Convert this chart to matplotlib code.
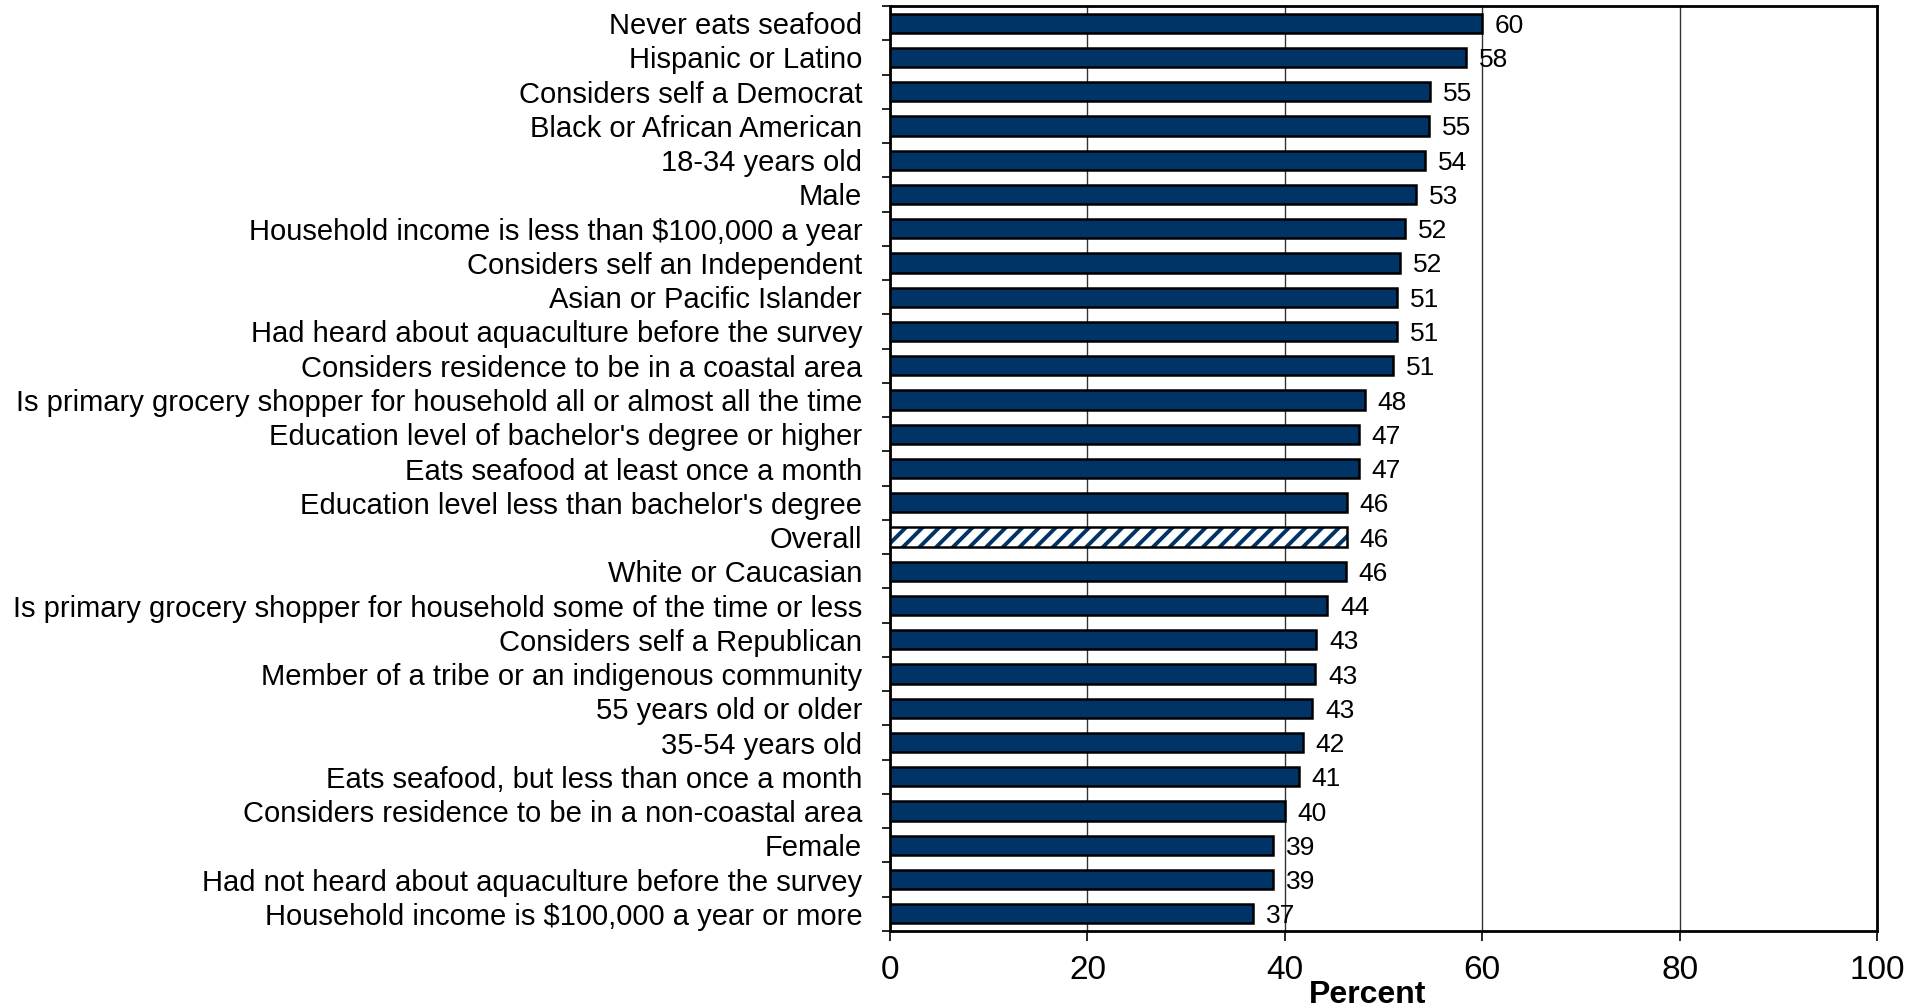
import numpy as np
import matplotlib.pyplot as plt

plt.rcParams['font.family'] = ['Liberation Sans', 'DejaVu Sans']
plt.rcParams['hatch.linewidth'] = 2.8

# categories, top to bottom
labels = [
    "Never eats seafood",
    "Hispanic or Latino",
    "Considers self a Democrat",
    "Black or African American",
    "18-34 years old",
    "Male",
    "Household income is less than $100,000 a year",
    "Considers self an Independent",
    "Asian or Pacific Islander",
    "Had heard about aquaculture before the survey",
    "Considers residence to be in a coastal area",
    "Is primary grocery shopper for household all or almost all the time",
    "Education level of bachelor's degree or higher",
    "Eats seafood at least once a month",
    "Education level less than bachelor's degree",
    "Overall",
    "White or Caucasian",
    "Is primary grocery shopper for household some of the time or less",
    "Considers self a Republican",
    "Member of a tribe or an indigenous community",
    "55 years old or older",
    "35-54 years old",
    "Eats seafood, but less than once a month",
    "Considers residence to be in a non-coastal area",
    "Female",
    "Had not heard about aquaculture before the survey",
    "Household income is $100,000 a year or more",
]
# bar lengths
values = [60.0, 58.4, 54.7, 54.6, 54.2, 53.3, 52.2, 51.7, 51.4, 51.4, 51.0,
          48.1, 47.5, 47.5, 46.3, 46.3, 46.2, 44.3, 43.2, 43.1, 42.8, 41.8,
          41.4, 40.0, 38.8, 38.8, 36.8]
# printed value labels
shown = [60, 58, 55, 55, 54, 53, 52, 52, 51, 51, 51, 48, 47, 47, 46, 46, 46,
         44, 43, 43, 43, 42, 41, 40, 39, 39, 37]

navy = '#003366'
n = len(labels)
y = np.arange(n)

fig = plt.figure(figsize=(19.21, 10.08), dpi=100)
ax = fig.add_axes([0.4633, 0.0764, 0.5138, 0.9176])

for i in range(n):
    if labels[i] == "Overall":
        ax.barh(y[i], values[i], height=0.56, color='white', edgecolor=navy,
                hatch='//', linewidth=0, zorder=3)
        ax.barh(y[i], values[i], height=0.56, fill=False, edgecolor='black',
                linewidth=1.8, zorder=4)
    else:
        ax.barh(y[i], values[i], height=0.56, color=navy, edgecolor='black',
                linewidth=1.8, zorder=3)
    ax.text(values[i] + 1.3, y[i], str(shown[i]), va='center_baseline',
            ha='left', fontsize=19)

ax.set_ylim(n - 0.5, -0.5)
ax.set_xlim(0, 100)
ax.set_yticks(y)
ax.set_yticklabels(labels, fontsize=21)
ax.set_yticks(np.arange(-0.5, n, 1), minor=True)
ax.tick_params(axis='y', which='major', length=0, pad=20)
ax.tick_params(axis='y', which='minor', length=6, width=1.2, direction='out')
ax.set_xticks([0, 20, 40, 60, 80, 100])
ax.tick_params(axis='x', labelsize=24, length=7, width=1.2, pad=10)
ax.grid(axis='x', color='#333333', linewidth=1.0, zorder=0)
for s in ax.spines.values():
    s.set_linewidth(2)
    s.set_color('black')

fig.text(0.712, 0.013, "Percent", ha='center', va='center', fontsize=23,
         fontweight='bold')

fig.savefig('out.png', dpi=100)
